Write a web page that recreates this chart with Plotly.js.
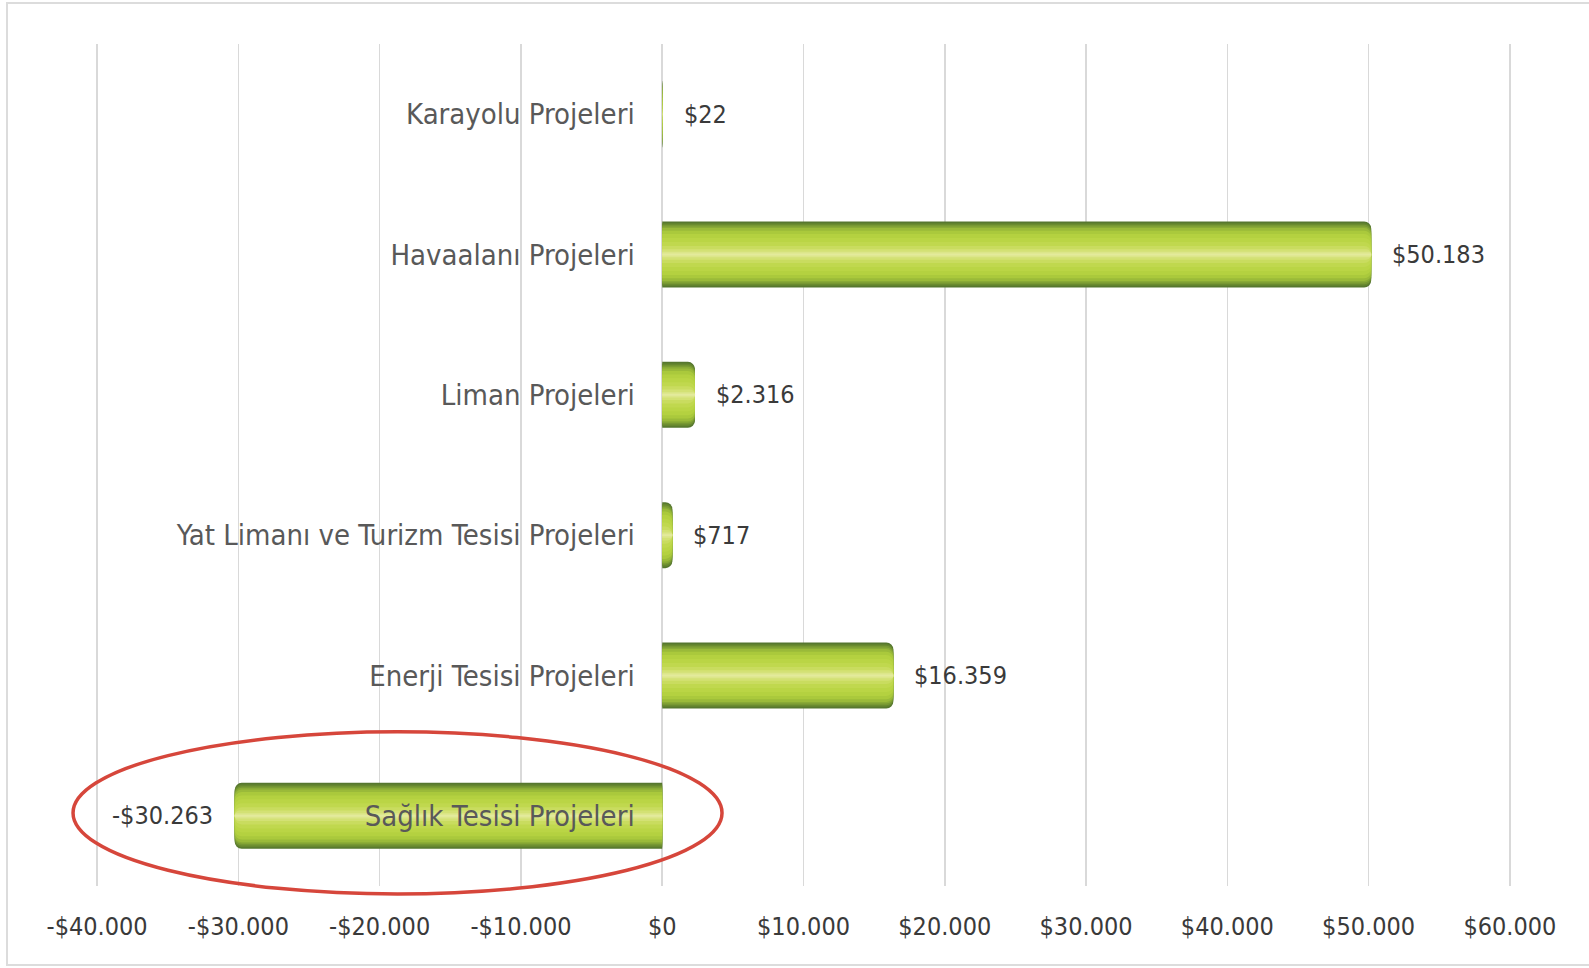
<!DOCTYPE html>
<html>
<head>
<meta charset="utf-8">
<script src="https://cdn.plot.ly/plotly-3.0.1.min.js"></script>
<style>html,body{margin:0;padding:0;background:#fff;}#chart{width:1589px;height:968px;}</style>
</head>
<body>
<div id="chart"></div>
<script>
// ---- data ----
const categories = [
  'Karayolu Projeleri',
  'Havaalanı Projeleri',
  'Liman Projeleri',
  'Yat Limanı ve Turizm Tesisi Projeleri',
  'Enerji Tesisi Projeleri',
  'Sağlık Tesisi Projeleri'
];
const values = [22, 50183, 2316, 717, 16359, -30263];
const tickValues = [-40000, -30000, -20000, -10000, 0, 10000, 20000, 30000, 40000, 50000, 60000];

// ---- helpers ----
function fmt(v) {
  const s = Math.abs(Math.round(v)).toString().replace(/\B(?=(\d{3})+(?!\d))/g, '.');
  return (v < 0 ? '-' : '') + '$' + s;
}
const tickText = tickValues.map(fmt);

const FONT = '"Liberation Sans Narrow", "DejaVu Sans Condensed", "Arial Narrow", sans-serif';

// cylinder-like shading emulated with overlaid bars of decreasing thickness (style only)
const bands = [
  {w: 0.470, c: '#56772f'},
  {w: 0.4465, c: '#66872f'},
  {w: 0.423, c: '#779833'},
  {w: 0.3995, c: '#89aa36'},
  {w: 0.376, c: '#9aba39'},
  {w: 0.338, c: '#aac93c'},
  {w: 0.291, c: '#b4d140'},
  {w: 0.235, c: '#bad545'},
  {w: 0.179, c: '#c0d84e'},
  {w: 0.122, c: '#c9dc5f'},
  {w: 0.075, c: '#d3e174'},
  {w: 0.038, c: '#dce68a'},
  {w: 0.014, c: '#e3ea9c'}
];

const traces = bands.map(b => ({
  type: 'bar',
  orientation: 'h',
  y: categories,
  x: values,
  width: b.w,
  marker: {color: b.c, cornerradius: 7, line: {width: 0}},
  hoverinfo: 'skip',
  showlegend: false
}));

const annotations = values.map((v, i) => ({
  x: v, y: categories[i], xref: 'x', yref: 'y',
  text: fmt(v),
  showarrow: false,
  xanchor: v < 0 ? 'right' : 'left',
  xshift: v < 0 ? -20 : 19,
  font: {family: FONT, size: 25, color: '#3a3a3a'}
}));

const layout = {
  width: 1589, height: 968,
  paper_bgcolor: '#ffffff', plot_bgcolor: '#ffffff',
  margin: {l: 95, r: 77, t: 44, b: 82},
  barmode: 'overlay',
  showlegend: false,
  font: {family: FONT},
  xaxis: {
    range: [-40150, 60150],
    tickvals: tickValues,
    ticktext: tickText,
    showgrid: true, gridcolor: '#d9d9d9', gridwidth: 1.5,
    zeroline: false, showline: false, ticks: '',
    tickfont: {family: FONT, size: 25, color: '#3a3a3a'},
    ticklabelstandoff: 23,
    automargin: false, fixedrange: true
  },
  yaxis: {
    type: 'category',
    autorange: 'reversed',
    anchor: 'free', position: 0.4013,
    showgrid: false, zeroline: false, showline: false, ticks: '',
    tickfont: {family: FONT, size: 29, color: '#595959'},
    ticklabelstandoff: 29,
    automargin: false, fixedrange: true
  },
  annotations: annotations,
  shapes: [
    {type: 'rect', xref: 'paper', yref: 'paper', x0: -0.0621, x1: 1.0600, y0: -0.0939, y1: 1.0488,
     line: {color: '#dcdcdc', width: 2}, fillcolor: 'rgba(0,0,0,0)', layer: 'below'},
    {type: 'circle', xref: 'paper', yref: 'paper', x0: -0.0155, x1: 0.4425, y0: -0.0095, y1: 0.1831,
     line: {color: '#d6463b', width: 3.5}, fillcolor: 'rgba(0,0,0,0)'}
  ]
};

Plotly.newPlot('chart', traces, layout, {displayModeBar: false, staticPlot: true});
</script>
</body>
</html>
